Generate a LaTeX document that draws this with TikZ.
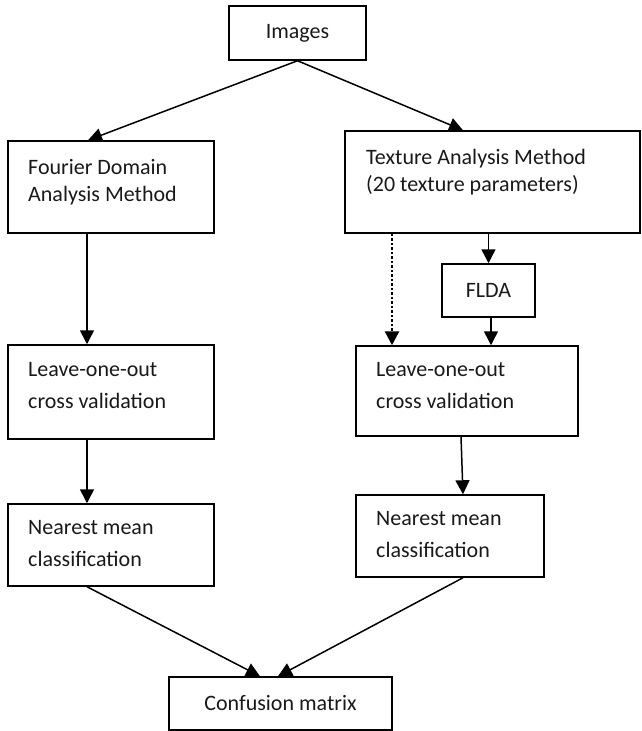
\documentclass[tikz,border=0pt]{standalone}
\usepackage{fontspec}
\setmainfont{Carlito}
\usetikzlibrary{arrows.meta}
\begin{document}
\begin{tikzpicture}[x=1pt,y=-1pt,
  box/.style={draw,line width=1.5pt,inner sep=0pt,text=black!90,
    font=\fontsize{22}{27}\selectfont},
  txt/.style={anchor=north west,inner sep=0pt,align=left,text=black!90},
  fa/.style={font=\fontsize{22}{27}\selectfont},
  fb/.style={font=\fontsize{22}{32}\selectfont},
  arr/.style={line width=1.5pt,-{Triangle[length=14pt,width=14pt]}},
  dotarr/.style={arr,line width=2.5pt,dash pattern=on 2.5pt off 2pt}]
\useasboundingbox (0,0) rectangle (642,731);
% boxes
\node[box,minimum width=137,minimum height=54] (imgs) at (297.5,33) {Images};
\node[box,minimum width=206,minimum height=92] (fourier) at (111,187) {};
\node[box,minimum width=295,minimum height=102] (texture) at (492.5,182) {};
\node[box,minimum width=93,minimum height=53] (flda) at (488.5,290.5) {FLDA};
\node[box,minimum width=206,minimum height=94] (leaveL) at (111,392) {};
\node[box,minimum width=222,minimum height=90] (leaveR) at (467,391) {};
\node[box,minimum width=206,minimum height=82] (nearL) at (111,545) {};
\node[box,minimum width=188,minimum height=82] (nearR) at (450,536) {};
\node[box,minimum width=223,minimum height=53] (conf) at (280.5,703.5) {Confusion matrix};
% box texts
\node[txt,fa] (fourier-t) at (28,155.1) {\strut Fourier Domain\\Analysis Method};
\node[txt,fa] (texture-t) at (366,145.1) {\strut Texture Analysis Method\\(20 texture parameters)};
\node[txt,fb] (leaveL-t) at (28,353.6) {\strut Leave-one-out\\cross validation};
\node[txt,fb] (nearL-t) at (28,511.6) {\strut Nearest mean\\classification};
\node[txt,fb] (leaveR-t) at (376,353.6) {\strut Leave-one-out\\cross validation};
\node[txt,fb] (nearR-t) at (376,502.6) {\strut Nearest mean\\classification};
% connectors
\draw[arr] (imgs.south) -- ([xshift=-23]fourier.north);
\draw[arr] (imgs.south) -- ([xshift=-29.5]texture.north);
\draw[arr] ([xshift=-24]fourier.south) -- ([xshift=-24]leaveL.north);
\draw[arr] (flda.north |- texture.south) -- (flda.north);
\draw[arr] ([xshift=2.5]flda.south) -- ([xshift=2.5]flda.south |- leaveR.north);
\draw[dotarr] ([xshift=-75]leaveR.north |- texture.south) -- ([xshift=-75]leaveR.north);
\draw[arr] ([xshift=-24]leaveL.south) -- ([xshift=-24]nearL.north);
\draw[arr] ([xshift=-6]leaveR.south) -- ([xshift=13]nearR.north);
\draw[arr] ([xshift=-24]nearL.south) -- ([xshift=-20.5]conf.north);
\draw[arr] ([xshift=13]nearR.south) -- ([xshift=-2.5]conf.north);
\end{tikzpicture}
\end{document}
